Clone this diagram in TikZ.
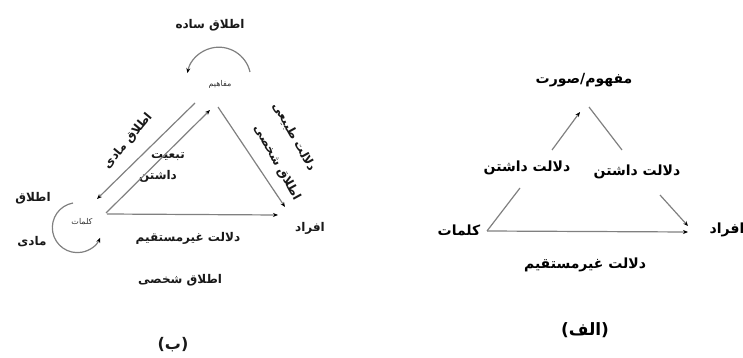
\documentclass[tikz,border=0pt]{standalone}
\usepackage{fontspec}
\usetikzlibrary{arrows.meta}
\TeXXeTstate=1
\newfontfamily\arabicfont[Script=Arabic]{DejaVu Sans}
\newcommand{\rtltext}[1]{\beginR #1\endR}
\begin{document}
\begin{tikzpicture}[x=1pt,y=-1pt,
  ln/.style={draw=black!50, line width=1.2pt},
  arr/.style={ln, -{Stealth[length=5pt,width=4pt,color=black]}},
  fa/.style={font=\arabicfont\bfseries\fontsize{12}{14}\selectfont, inner sep=1pt, text=black!90},
  fabig/.style={font=\arabicfont\bfseries\fontsize{14}{16}\selectfont, inner sep=1pt, text=black},
  fasmall/.style={font=\arabicfont\fontsize{8}{9}\selectfont, inner sep=1pt, text=black!80}]
\useasboundingbox (0,0) rectangle (743,358);
% ---------- (b) left diagram ----------
\node[fa] (sadeh) at (210,25) {\rtltext{اطلاق ساده}};
\node[fasmall] (mafahim) at (220,84) {\rtltext{مفاهیم}};
\node[fasmall] (kalamatB) at (82,222) {\rtltext{کلمات}};
\node[fa] (itlaq) at (33,198) {\rtltext{اطلاق}};
\node[fa] (madi) at (32,242) {\rtltext{مادی}};
\node[fa] (afradB) at (310,228) {\rtltext{افراد}};
\node[fa] (tabiyat) at (168,157) {\rtltext{تبعیت}};
\node[fa] (dashtan) at (158,176) {\rtltext{داشتن}};
\node[fa] (ghairB) at (188,238) {\rtltext{دلالت غیرمستقیم}};
\node[fa] (shakhsi) at (180,280) {\rtltext{اطلاق شخصی}};
\node[fa] (labB) at (173,345) {\arabicfont\bfseries\fontsize{16}{18}\selectfont(ب)};
\node[fa, rotate=50] (madiRot) at (128,141) {\rtltext{اطلاق مادی}};
\node[fa, rotate=-61] (tabii) at (294,137) {\rtltext{دلالت طبیعی}};
\node[fa, rotate=-61] (shakhsiRot) at (277,163) {\rtltext{اطلاق شخصی}};

\coordinate (m1) at (195,103);
\coordinate (k1) at (97,199);
\coordinate (k2) at (106,213);
\coordinate (m2) at (210,110);
\coordinate (m3) at (218,107);
\coordinate (f1) at (285,207);
\coordinate (k3) at (107,214);
\coordinate (f2) at (278,215);
\draw[arr] (m1) -- (k1);
\draw[arr] (k2) -- (m2);
\draw[arr] (m3) -- (f1);
\draw[arr] (k3) -- (f2);
\coordinate (loopA) at (250,72);
\draw[arr] (loopA) arc[start angle=13, end angle=169, radius=32pt];
\coordinate (loopB) at (73,203);
\draw[arr] (loopB) arc[start angle=100, end angle=336, radius=25pt];

% ---------- (alef) right diagram ----------
\node[fabig] (mafhum) at (584,80) {\rtltext{مفهوم/صورت}};
\node[fabig] (dal1) at (527,168) {\rtltext{دلالت داشتن}};
\node[fabig] (dal2) at (637,172) {\rtltext{دلالت داشتن}};
\node[fabig] (kalamatA) at (459,230) {\rtltext{کلمات}};
\node[fabig] (afradA) at (727,230) {\rtltext{افراد}};
\node[fabig] (ghairA) at (585,265) {\rtltext{دلالت غیرمستقیم}};
\node[fabig] (labA) at (585,330) {\arabicfont\bfseries\fontsize{17}{19}\selectfont(الف)};

\coordinate (a1) at (552,150);
\coordinate (a2) at (580,112);
\coordinate (a3) at (589,107);
\coordinate (a4) at (622,150);
\coordinate (a5) at (520,188);
\coordinate (a6) at (487,231);
\coordinate (a7) at (660,195);
\coordinate (a8) at (688,226);
\coordinate (a9) at (688,232);
\draw[arr] (a1) -- (a2);
\draw[ln] (a3) -- (a4);
\draw[ln] (a5) -- (a6);
\draw[arr] (a7) -- (a8);
\draw[arr] (a6) -- (a9);
\end{tikzpicture}
\end{document}
